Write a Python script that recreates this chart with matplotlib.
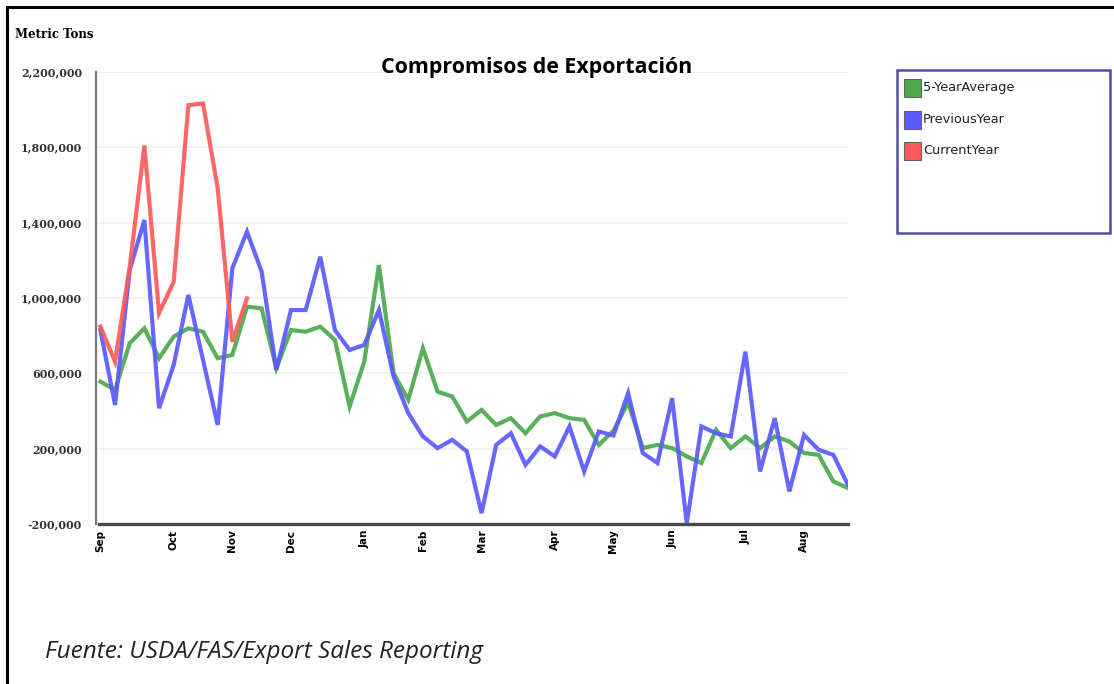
import matplotlib
matplotlib.use("Agg")
import matplotlib.pyplot as plt
from matplotlib.patches import Rectangle
from matplotlib.lines import Line2D

# --------------------------------------------------
# Data (weekly export commitments, metric tons)
# --------------------------------------------------
five_year_avg = [
    556e3, 512e3, 760e3, 839e3, 680e3, 795e3, 839e3, 821e3, 680e3, 698e3,
    954e3, 945e3, 627e3, 830e3, 821e3, 848e3, 777e3, 424e3, 662e3, 1175e3,
    600e3, 459e3, 733e3, 503e3, 477e3, 344e3, 406e3, 326e3, 362e3, 282e3,
    371e3, 389e3, 362e3, 353e3, 220e3, 295e3, 445e3, 203e3, 220e3, 203e3,
    159e3, 124e3, 300e3, 203e3, 265e3, 203e3, 265e3, 238e3, 177e3, 167e3,
    26e3, -9e3,
]
previous_year = [
    830e3, 432e3, 1149e3, 1414e3, 415e3, 645e3, 1016e3, 671e3, 326e3, 1158e3,
    1352e3, 1140e3, 618e3, 936e3, 936e3, 1219e3, 830e3, 724e3, 751e3, 936e3,
    583e3, 389e3, 265e3, 203e3, 247e3, 185e3, -142e3, 220e3, 282e3, 114e3,
    212e3, 159e3, 318e3, 79e3, 291e3, 270e3, 495e3, 177e3, 124e3, 468e3,
    -195e3, 318e3, 282e3, 265e3, 715e3, 79e3, 362e3, -27e3, 273e3, 194e3,
    167e3, 8e3,
]
current_year = [
    848e3, 662e3, 1166e3, 1810e3, 920e3, 1086e3, 2024e3, 2033e3, 1584e3,
    768e3, 998e3,
]

series_names = ["5-YearAverage", "PreviousYear", "CurrentYear"]
series_colors = ["#4caa4c", "#5a5aff", "#ff5a5a"]

month_labels = ["Sep", "Oct", "Nov", "Dec", "Jan", "Feb",
                "Mar", "Apr", "May", "Jun", "Jul", "Aug"]
month_weeks = [0, 5, 9, 13, 18, 22, 26, 31, 35, 39, 44, 48]

y_ticks = [-200e3, 200e3, 600e3, 1000e3, 1400e3, 1800e3, 2200e3]

# --------------------------------------------------
# Figure and axes
# --------------------------------------------------
W, H = 1114, 684
fig = plt.figure(figsize=(W / 100, H / 100), dpi=100)
ax = fig.add_axes([96 / W, 1 - 524 / H, 752 / W, 452 / H])

for values, color in zip([five_year_avg, previous_year, current_year],
                         series_colors):
    ax.plot(range(len(values)), values, color=color, lw=3.0,
            alpha=0.92, solid_joinstyle="miter", zorder=3)

ax.set_xlim(-0.3, 51)
ax.set_ylim(-200e3, 2200e3)

ax.set_yticks(y_ticks)
ax.set_yticklabels([f"{v:,.0f}" for v in y_ticks],
                   fontdict={"family": "DejaVu Serif", "weight": "bold",
                             "size": 8, "color": "#333333"})
ax.tick_params(axis="y", length=0, pad=10)

ax.set_xticks(month_weeks)
ax.set_xticklabels(month_labels, rotation=90, fontsize=7.5,
                   fontweight="bold", va="top")
ax.tick_params(axis="x", length=0, pad=4)

ax.grid(axis="y", color="#f0f0f0", lw=1.2, zorder=0)

for s in ["top", "right"]:
    ax.spines[s].set_visible(False)
ax.spines["left"].set_color("#7a7a7a")
ax.spines["left"].set_linewidth(1.6)
ax.spines["bottom"].set_color("#4a4a4a")
ax.spines["bottom"].set_linewidth(2.4)
ax.spines["bottom"].set_bounds(-0.1, 51)

# --------------------------------------------------
# Texts
# --------------------------------------------------
fig.text(537 / W, 1 - 68 / H, "Compromisos de Exportación",
         ha="center", va="center", fontsize=15.4, fontweight="bold",
         family="Open Sans")
fig.text(15 / W, 1 - 35 / H, "Metric Tons", ha="left", va="center",
         fontsize=8.5, fontweight="bold", family="DejaVu Serif")
fig.text(45 / W, 1 - 652 / H, "Fuente: USDA/FAS/Export Sales Reporting",
         ha="left", va="center", fontsize=17.5, style="italic",
         family="Open Sans", color="#222222")

# outer frame (left and top edges)
fig.add_artist(Line2D([7 / W, 7 / W], [0, 1 - 7 / H], color="black",
                      lw=2.2, transform=fig.transFigure))
fig.add_artist(Line2D([7 / W, 1], [1 - 7 / H, 1 - 7 / H], color="black",
                      lw=2.2, transform=fig.transFigure))

# --------------------------------------------------
# Legend box
# --------------------------------------------------
fig.add_artist(Rectangle((897 / W, 1 - 233 / H), 213 / W, 163 / H,
                         fill=False, edgecolor="#5050a8", lw=1.8,
                         transform=fig.transFigure))
for i, (name, color) in enumerate(zip(series_names, series_colors)):
    yc = 88 + i * 31.5
    fig.add_artist(Rectangle((904 / W, 1 - (yc + 9) / H), 17 / W, 18 / H,
                             facecolor=color, edgecolor="#666666", lw=0.8,
                             transform=fig.transFigure))
    fig.text(923 / W, 1 - yc / H, name, ha="left", va="center",
             fontsize=9.3, color="#222222")

fig.savefig("out.png", dpi=100)
